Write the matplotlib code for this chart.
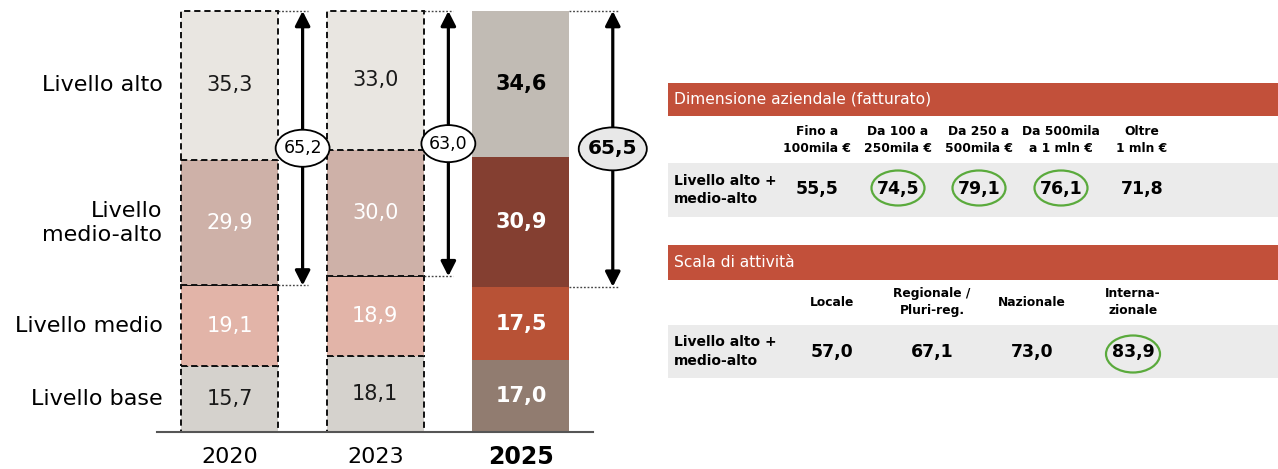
import numpy as np
import matplotlib.pyplot as plt
from matplotlib.patches import Ellipse, Rectangle

plt.rcParams['font.family'] = ['DejaVu Sans']

# ---- data ----
years = ['2020', '2023', '2025']
levels = ['Livello base', 'Livello medio', 'Livello\nmedio-alto', 'Livello alto']
base = [15.7, 18.1, 17.0]
medio = [19.1, 18.9, 17.5]
medio_alto = [29.9, 30.0, 30.9]
alto = [35.3, 33.0, 34.6]
top_two = [65.2, 63.0, 65.5]

dim_title = 'Dimensione aziendale (fatturato)'
dim_cols = ['Fino a\n100mila €', 'Da 100 a\n250mila €', 'Da 250 a\n500mila €',
            'Da 500mila\na 1 mln €', 'Oltre\n1 mln €']
dim_vals = [55.5, 74.5, 79.1, 76.1, 71.8]
dim_hl = [False, True, True, True, False]

scala_title = 'Scala di attività'
scala_cols = ['Locale', 'Regionale /\nPluri-reg.', 'Nazionale', 'Interna-\nzionale']
scala_vals = [57.0, 67.1, 73.0, 83.9]
scala_hl = [False, False, False, True]

row_label = 'Livello alto +\nmedio-alto'

# ---- style ----
old_colors = ['#D5D2CD', '#E2B4A8', '#CEB1A8', '#E9E6E1']
new_colors = ['#917C70', '#B85236', '#843F31', '#C1BBB4']
old_txt = ['#1a1a1a', 'white', 'white', '#1a1a1a']
new_txt = ['white', 'white', 'white', 'black']
red = '#C2503A'
gray = '#EBEBEB'
green = '#5AAA3C'


def fmt(v):
    return f'{v:.1f}'.replace('.', ',')


W, H = 1278, 469
fig = plt.figure(figsize=(W / 100, H / 100), dpi=100)

# left stacked bars
ax = fig.add_axes([157 / W, (H - 432) / H, (660 - 157) / W, 421 / H])
ax.set_xlim(-0.497, 2.954)
ax.set_ylim(0, 100)
ax.axis('off')

bw = 0.666
stacks = [base, medio, medio_alto, alto]
bottoms = np.zeros(3)
for j, vals in enumerate(stacks):
    for i in range(3):
        if i < 2:
            ax.bar(i, vals[i], bottom=bottoms[i], width=bw, color=old_colors[j],
                   edgecolor='#111111', linestyle=(0, (3.2, 2.0)), linewidth=1.4,
                   clip_on=False, zorder=2)
            ax.text(i, bottoms[i] + vals[i] / 2, fmt(vals[i]), ha='center', va='center',
                    fontsize=15, color=old_txt[j], zorder=3)
        else:
            ax.bar(i, vals[i], bottom=bottoms[i], width=bw, color=new_colors[j],
                   linewidth=0, clip_on=False, zorder=2)
            ax.text(i, bottoms[i] + vals[i] / 2, fmt(vals[i]), ha='center', va='center',
                    fontsize=15, fontweight='bold', color=new_txt[j], zorder=3)
    # category labels next to first bar
    ax.text(-0.46, bottoms[0] + vals[0] / 2, levels[j], ha='right', va='center',
            fontsize=16, multialignment='right', linespacing=1.25)
    bottoms += np.array(vals)

# arrows for alto + medio-alto
offs = [0.502, 0.502, 0.63]
for i in range(3):
    xa = i + offs[i]
    low = base[i] + medio[i]
    for yy in (100, low):
        ax.plot([i + bw / 2, xa + 0.035], [yy, yy], ls=(0, (1.3, 1.3)), lw=1.0,
                color='#444444', clip_on=False, zorder=1)
    ax.annotate('', xy=(xa, 100), xytext=(xa, low),
                arrowprops=dict(arrowstyle='<|-|>,head_length=0.55,head_width=0.28',
                                lw=2.3, color='black', shrinkA=0, shrinkB=0,
                                mutation_scale=16),
                annotation_clip=False, zorder=4)
    ymid = (100 + low) / 2
    if i < 2:
        ax.add_patch(Ellipse((xa, ymid), 0.37, 8.8, fc='white', ec='black', lw=1.3,
                             zorder=5, clip_on=False))
        ax.text(xa, ymid, fmt(top_two[i]), ha='center', va='center', fontsize=12.5, zorder=6)
    else:
        ax.add_patch(Ellipse((xa, ymid), 0.467, 10.2, fc='#E8E8E8', ec='black', lw=1.3,
                             zorder=5, clip_on=False))
        ax.text(xa, ymid, fmt(top_two[i]), ha='center', va='center', fontsize=14.5,
                fontweight='bold', zorder=6)

ax.plot([-0.497, 2.495], [0, 0], color='#555555', lw=1.5, clip_on=False, zorder=3)
for i, yr in enumerate(years):
    if i < 2:
        ax.text(i, -6, yr, ha='center', va='center', fontsize=16)
    else:
        ax.text(i, -6, yr, ha='center', va='center', fontsize=17, fontweight='bold')

# right tables, pixel coordinates
tx = fig.add_axes([0, 0, 1, 1], zorder=-1)
tx.set_xlim(0, W)
tx.set_ylim(H, 0)
tx.axis('off')


def draw_table(top, head_h, title, cols, col_x, hdr_y, g_top, g_bot, vals, hl, val_y, ell_y, ell_wh):
    tx.add_patch(Rectangle((668, top), W - 668, head_h, color=red, lw=0))
    tx.text(674, top + head_h / 2, title, color='white', fontsize=11.2, ha='left', va='center')
    for c, x in zip(cols, col_x):
        tx.text(x, hdr_y, c, ha='center', va='center', fontsize=8.8, fontweight='bold',
                linespacing=1.35)
    tx.add_patch(Rectangle((668, g_top), W - 668, g_bot - g_top, color=gray, lw=0))
    tx.text(674, (g_top + g_bot) / 2, row_label, ha='left', va='center', fontsize=10,
            fontweight='bold', linespacing=1.4)
    for v, h, x in zip(vals, hl, col_x):
        tx.text(x, val_y, fmt(v), ha='center', va='center', fontsize=12.5, fontweight='bold')
        if h:
            tx.add_patch(Ellipse((x, ell_y), ell_wh[0], ell_wh[1], fc='none', ec=green, lw=1.6))


draw_table(83, 33, dim_title, dim_cols, [817, 898, 979, 1061, 1142], 140, 163, 217,
           dim_vals, dim_hl, 189, 188, (53, 35))
draw_table(245, 35, scala_title, scala_cols, [832, 932, 1032, 1133], 302, 325, 378,
           scala_vals, scala_hl, 352, 354, (54, 37))

fig.savefig('out.png', dpi=100)
